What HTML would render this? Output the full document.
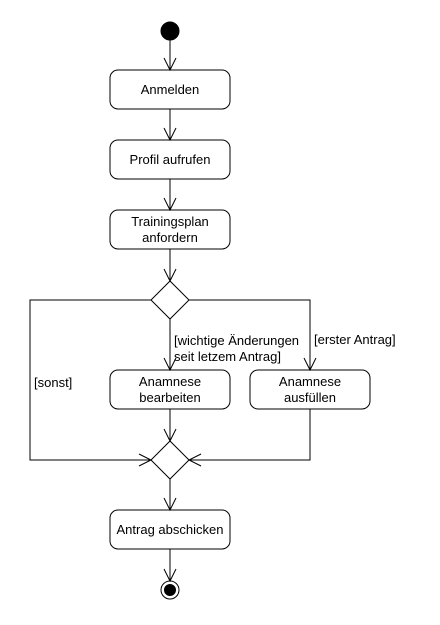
<!DOCTYPE html>
<html><head><style>body{margin:0;background:#fff}</style></head><body>
<svg width="440" height="620" xmlns="http://www.w3.org/2000/svg" font-family="Liberation Sans, sans-serif" font-size="13">
<g fill="none" stroke="#000" stroke-width="1">
<circle cx="170" cy="31" r="9" fill="#000"/>
<rect x="110" y="70" width="120" height="39" rx="8" fill="#fff"/>
<rect x="110" y="140" width="120" height="39" rx="8" fill="#fff"/>
<rect x="110" y="210" width="120" height="39" rx="8" fill="#fff"/>
<rect x="110" y="370" width="120" height="39" rx="8" fill="#fff"/>
<rect x="250" y="370" width="120" height="39" rx="8" fill="#fff"/>
<rect x="110" y="510" width="120" height="39" rx="8" fill="#fff"/>
<path d="M170 281 L189 300 L170 319 L151 300 Z"/>
<path d="M170 441 L189 460 L170 479 L151 460 Z"/>
<circle cx="170" cy="590" r="9"/>
<circle cx="170" cy="590" r="5.5" fill="#000"/>
<path d="M170 40V70 M170 109V140 M170 179V210 M170 249V281 M170 319V370 M170 409V441 M170 479V510 M170 549V581"/>
<path d="M151 300H30V460H151 M189 300H310V370 M310 409V460H189"/>
<path d="M164 58L170 70L176 58 M164 128L170 140L176 128 M164 198L170 210L176 198 M164 269L170 281L176 269 M164 358L170 370L176 358 M304 358L310 370L316 358 M164 429L170 441L176 429 M164 498L170 510L176 498 M164 569L170 581L176 569 M139 454L151 460L139 466 M201 454L189 460L201 466"/>
</g>
<g fill="#000" text-anchor="middle">
<text x="170" y="94">Anmelden</text>
<text x="170" y="164">Profil aufrufen</text>
<text x="170" y="226">Trainingsplan</text>
<text x="170" y="242">anfordern</text>
<text x="170" y="386">Anamnese</text>
<text x="170" y="402">bearbeiten</text>
<text x="310" y="386">Anamnese</text>
<text x="310" y="402">ausfüllen</text>
<text x="170" y="534">Antrag abschicken</text>
</g>
<g fill="#000">
<text x="174" y="345">[wichtige Änderungen</text>
<text x="174" y="361">seit letzem Antrag]</text>
<text x="314" y="344">[erster Antrag]</text>
<text x="34" y="387">[sonst]</text>
</g>
</svg>
</body></html>
